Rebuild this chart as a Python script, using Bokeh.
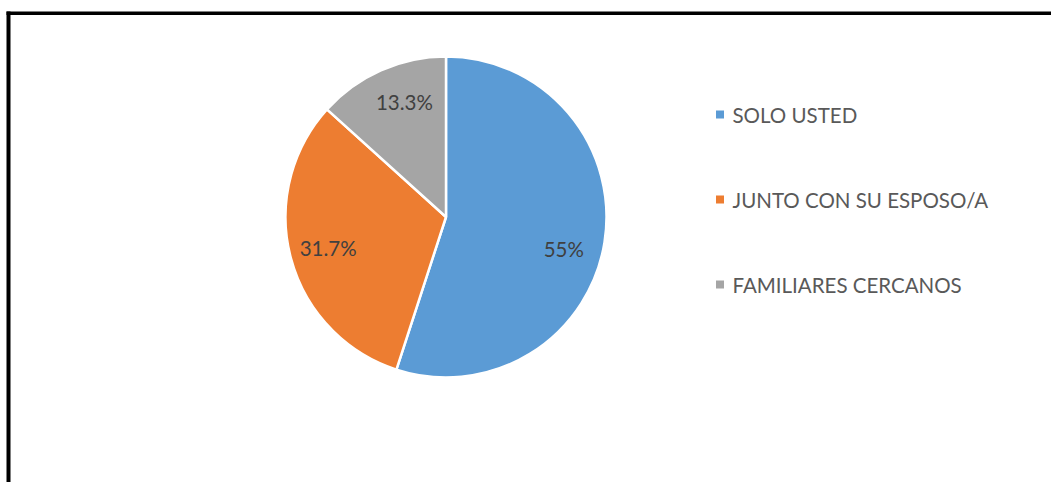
import math
from bokeh.plotting import figure
from bokeh.models import Range1d, BoxAnnotation, ColumnDataSource
from bokeh.core.properties import value
from bokeh.embed import file_html
from bokeh.resources import INLINE

# ---- data ----
categories = ["SOLO USTED", "JUNTO CON SU ESPOSO/A", "FAMILIARES CERCANOS"]
percents = [55.0, 31.7, 13.3]
labels = ["55%", "31.7%", "13.3%"]
colors = ["#5B9BD5", "#ED7D31", "#A5A5A5"]

# ---- layout (pixel coordinate system) ----
W, H = 1051, 482
cx, cy, R = 445.5, H - 216.5, 160.5
label_r = 0.76
label_angle_shift = [-6.0, 0.0, -4.0]  # degrees, best-fit nudge
font = "Lato"
fs = "20.5px"

total = sum(percents)
starts, ends, lx, ly = [], [], [], []
cum = 0.0
for i, v in enumerate(percents):
    a0 = 90 - 360 * (cum + v) / total
    a1 = 90 - 360 * cum / total
    cum += v
    starts.append(math.radians(a0))
    ends.append(math.radians(a1))
    mid = math.radians((a0 + a1) / 2 + label_angle_shift[i])
    lx.append(cx + label_r * R * math.cos(mid))
    ly.append(cy + label_r * R * math.sin(mid))

p = figure(width=W, height=H, output_backend="svg", toolbar_location=None,
           x_range=Range1d(0, W), y_range=Range1d(0, H), min_border=0)
p.xaxis.visible = False
p.yaxis.visible = False
p.grid.visible = False
p.outline_line_color = None
p.background_fill_color = "white"
p.border_fill_color = "white"

src = ColumnDataSource(dict(start=starts, end=ends, color=colors,
                            lx=lx, ly=ly, lab=labels))
p.wedge(x=cx, y=cy, radius=R, start_angle="start", end_angle="end",
        direction="anticlock", fill_color="color", line_color="white",
        line_width=2.5, source=src)
p.text(x="lx", y="ly", text="lab", source=src, text_align="center",
       text_baseline="middle", text_color="#404040",
       text_font=value(font), text_font_size=fs)

# legend
leg_x, leg_y0, leg_dy = 719.5, H - 114, 85
ys = [leg_y0 - i * leg_dy for i in range(len(categories))]
lsrc = ColumnDataSource(dict(y=ys, ty=[y - 0.5 for y in ys], c=colors, t=categories))
p.scatter(x=leg_x, y="y", marker="square", size=8, fill_color="c",
          line_color=None, source=lsrc)
p.text(x=leg_x + 12.5, y="ty", text="t", source=lsrc, text_align="left",
       text_baseline="middle", text_color="#595959",
       text_font=value(font), text_font_size=fs)

# frame border (left and top visible)
p.add_layout(BoxAnnotation(left=6, right=10, top=H - 11, bottom=None,
                           fill_color="black", fill_alpha=1, line_color=None))
p.add_layout(BoxAnnotation(left=6, right=None, top=H - 11, bottom=H - 14.5,
                           fill_color="black", fill_alpha=1, line_color=None))

open("out.html", "w").write(file_html(p, INLINE))
